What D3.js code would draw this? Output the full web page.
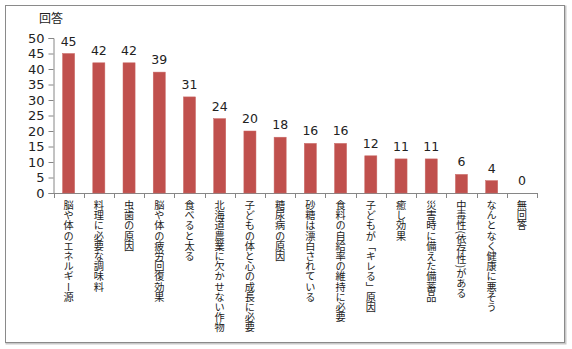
<!DOCTYPE html>
<html><head><meta charset="utf-8">
<script src="https://cdn.jsdelivr.net/npm/d3@7"></script>
<style>
html,body{margin:0;padding:0;background:#fff;}
svg{display:block;}
</style></head>
<body>
<svg id="c" width="572" height="349"></svg>
<script>
const categories = ["脳や体のエネルギー源","料理に必要な調味料","虫歯の原因","脳や体の疲労回復効果","食べると太る","北海道農業に欠かせない作物","子どもの体と心の成長に必要","糖尿病の原因","砂糖は漂白されている","食料の自給率の維持に必要","子どもが「キレる」原因","癒し効果","災害時に備えた備蓄品","中毒性(依存性)がある","なんとなく健康に悪そう","無回答"];
const values = [45,42,42,39,31,24,20,18,16,16,12,11,11,6,4,0];
const yTicks = [0,5,10,15,20,25,30,35,40,45,50];
const yTitle = "回答";

const svg = d3.select("#c");
// frame
svg.append("rect").attr("x",6.5).attr("y",6.5).attr("width",559).attr("height",337)
  .attr("fill","none").attr("stroke","#c8c8c8").attr("stroke-width",2);
svg.append("rect").attr("x",5.5).attr("y",5.5).attr("width",559).attr("height",337)
  .attr("fill","#fff").attr("stroke","#8a8a8a").attr("stroke-width",1);

const x0 = 53.5, x1 = 537, yTop = 38, yBot = 193;
const x = d3.scaleBand().domain(categories).range([x0,x1]).paddingInner(0.6).paddingOuter(0.3);
const y = d3.scaleLinear().domain([0,50]).range([yBot,yTop]);

// y axis
const ya = svg.append("g").attr("transform",`translate(${x0},0)`)
  .call(d3.axisLeft(y).tickValues(yTicks).tickSize(5).tickPadding(4));
ya.select(".domain").attr("stroke","#868686");
ya.selectAll(".tick line").attr("stroke","#868686");
ya.selectAll(".tick text").attr("fill","#222").attr("font-family","DejaVu Sans").attr("font-size","13px");

// x axis line
svg.append("line").attr("x1",x0).attr("x2",x1).attr("y1",yBot+0.5).attr("y2",yBot+0.5).attr("stroke","#868686");
// boundary ticks
const step = x.step();
const bounds = d3.range(categories.length+1).map(i => x0 + i*step);
svg.selectAll(".bt").data(bounds).enter().append("line")
  .attr("x1",d=>Math.round(d)+0.5).attr("x2",d=>Math.round(d)+0.5)
  .attr("y1",yBot).attr("y2",yBot+5).attr("stroke","#868686");

// bars
svg.selectAll(".bar").data(values).enter().append("rect")
  .attr("x",(d,i)=>x(categories[i])).attr("width",x.bandwidth())
  .attr("y",d=>y(d)).attr("height",d=>yBot-y(d))
  .attr("fill","#C0504D").attr("stroke","#c96a67").attr("stroke-width",0.5);

// value labels
svg.selectAll(".vl").data(values).enter().append("text")
  .attr("x",(d,i)=>x(categories[i])+x.bandwidth()/2)
  .attr("y",d=>y(d)-8)
  .attr("text-anchor","middle")
  .attr("font-family","DejaVu Sans").attr("font-size","12.5px").attr("fill","#222")
  .text(d=>d);

// category labels (vertical)
svg.selectAll(".cl").data(categories).enter().append("text")
  .attr("x",d=>x(d)+x.bandwidth()/2)
  .attr("y",200)
  .attr("font-family","'Noto Sans CJK JP'").attr("font-size","10.2px").attr("fill","#1a1a1a")
  .style("writing-mode","vertical-rl")
  .attr("text-anchor","start")
  .text(d=>d);

// y title
svg.append("text").attr("x",51).attr("y",23).attr("text-anchor","middle")
  .attr("font-family","'Noto Sans CJK JP'").attr("font-size","12px").attr("fill","#222")
  .text(yTitle);
</script>
</body></html>
